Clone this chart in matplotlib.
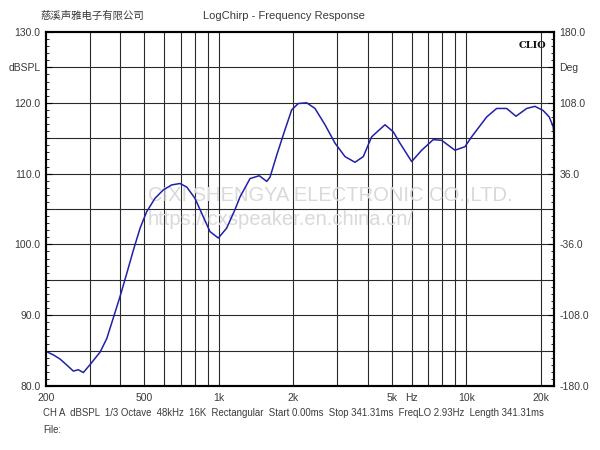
import matplotlib.pyplot as plt
from matplotlib.ticker import MultipleLocator, NullLocator

# DATA
freq_hz = [200, 214, 228, 242, 258, 270, 283, 301, 331, 352, 374, 398, 424,
           451, 480, 510, 551, 596, 644, 696, 741, 800, 864, 920, 994, 1074,
           1160, 1216, 1335, 1455, 1559, 1608, 1711, 1848, 1967, 2091, 2262,
           2443, 2682, 2943, 3230, 3544, 3829, 4140, 4686, 5062, 5386, 6006,
           6592, 7342, 7939, 8984, 9862, 10495, 12069, 13244, 14536, 15851,
           17510, 18916, 20430, 21600, 22420, 22580]
spl_db = [84.9, 84.4, 83.8, 83.0, 82.1, 82.3, 81.9, 83.0, 84.8, 86.7, 89.6,
          92.6, 95.9, 99.2, 102.3, 104.6, 106.5, 107.7, 108.4, 108.6, 108.1,
          106.5, 103.9, 101.8, 100.9, 102.3, 104.9, 106.7, 109.3, 109.7, 108.9,
          109.5, 112.6, 116.2, 119.0, 119.9, 120.0, 119.2, 116.9, 114.3, 112.4,
          111.6, 112.4, 115.2, 116.9, 115.9, 114.3, 111.7, 113.3, 114.8, 114.7,
          113.3, 113.8, 115.2, 118.0, 119.2, 119.2, 118.1, 119.2, 119.5, 118.9,
          118.0, 116.6, 115.3]
grid_freqs = [300, 400, 500, 600, 700, 800, 900, 1000, 2000, 3000, 4000, 5000,
              6000, 7000, 8000, 9000, 10000, 20000]
x_ticks = [200, 500, 1000, 2000, 5000, 6000, 10000, 20000]
x_labels = ['200', '500', '1k', '2k', '5k', 'Hz', '10k', '20k']
left_ticks = [80, 90, 100, 110, 120, 125, 130]
left_labels = ['80.0', '90.0', '100.0', '110.0', '120.0', 'dBSPL', '130.0']
right_ticks = [-180, -108, -36, 36, 108, 144, 180]
right_labels = ['-180.0', '-108.0', '-36.0', '36.0', '108.0', 'Deg', '180.0']
info_line = ('CH A  dBSPL  1/3 Octave  48kHz  16K  Rectangular  Start 0.00ms'
             '  Stop 341.31ms  FreqLO 2.93Hz  Length 341.31ms')

plt.rcParams['font.family'] = ['Liberation Sans', 'DejaVu Sans']
txt_col = '#3a3a3a'

fig = plt.figure(figsize=(6, 4.5), dpi=100)
ax = fig.add_axes([46/600, 1-386/450, 508/600, 354/450])
ax.set_xscale('log')
ax.set_xlim(200, 22580)
ax.set_ylim(80, 130)

# grid
for f in grid_freqs:
    ax.axvline(f, color='#2a2a2a', lw=0.8, zorder=1)
for db in range(85, 130, 5):
    ax.axhline(db, color='#2a2a2a', lw=0.8, zorder=1)

# watermark
ax.text(0.2, 0.54, 'CIXI SHENGYA ELECTRONIC CO.,LTD.', transform=ax.transAxes,
        ha='left', va='center', fontsize=14.5, color='#d9d9d9', zorder=2)
ax.text(0.2, 0.47, 'https://cxspeaker.en.china.cn/', transform=ax.transAxes,
        ha='left', va='center', fontsize=14.5, color='#d9d9d9', zorder=2)

ax.plot(freq_hz, spl_db, color='#2020a8', lw=1.1, zorder=3)

ax.text(0.985, 0.975, 'CLIO', transform=ax.transAxes, ha='right', va='top',
        fontsize=7, fontweight='bold', family='DejaVu Serif', color='#111111')

for s in ax.spines.values():
    s.set_linewidth(1.5)
    s.set_color('black')

ax.set_xticks(x_ticks)
ax.set_xticklabels(x_labels)
ax.xaxis.set_minor_locator(NullLocator())
ax.tick_params(axis='x', length=0, pad=5, labelsize=7.5, labelcolor=txt_col)

ax.set_yticks(left_ticks)
ax.set_yticklabels(left_labels)
ax.yaxis.set_minor_locator(MultipleLocator(1))
ax.tick_params(axis='y', which='major', direction='in', length=4, pad=4,
               labelsize=7.5, labelcolor=txt_col)
ax.tick_params(axis='y', which='minor', direction='in', length=2.5)

ax2 = ax.twinx()
ax2.set_ylim(-180, 180)
ax2.set_yticks(right_ticks)
ax2.set_yticklabels(right_labels)
ax2.yaxis.set_minor_locator(MultipleLocator(7.2))
ax2.tick_params(axis='y', which='major', direction='in', length=4, pad=4,
                labelsize=7.5, labelcolor=txt_col)
ax2.tick_params(axis='y', which='minor', direction='in', length=2.5)
for s in ax2.spines.values():
    s.set_linewidth(1.5)

fig.text(40/600, 1-16/450, '慈溪声雅电子有限公司', fontsize=7.5, color=txt_col,
         family=['Noto Sans CJK SC', 'DejaVu Sans'], va='center', ha='left')
fig.text(284/600, 1-16/450, 'LogChirp - Frequency Response', fontsize=8,
         color=txt_col, va='center', ha='center')
fig.text(43/600, 1-413/450, info_line, fontsize=6.95, color=txt_col,
         va='center', ha='left')
fig.text(43/600, 1-430/450, 'File:', fontsize=6.95, color=txt_col,
         va='center', ha='left')

fig.savefig('out.png', dpi=100)
